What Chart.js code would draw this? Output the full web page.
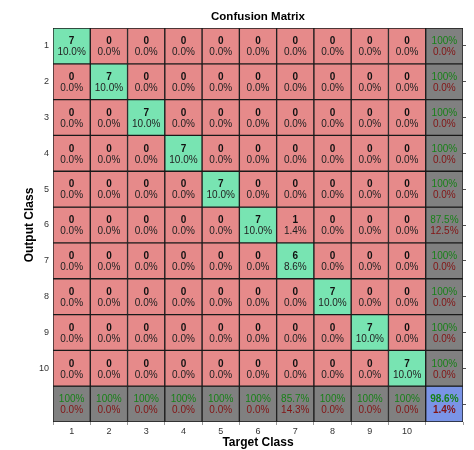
<!DOCTYPE html>
<html>
<head>
<meta charset="utf-8">
<script src="https://cdn.jsdelivr.net/npm/chart.js@4.4.1/dist/chart.umd.min.js"></script>
<style>
  html, body { margin: 0; padding: 0; background: #fff; }
  #wrap { width: 474px; height: 450px; }
</style>
</head>
<body>
<div id="wrap"><canvas id="grafico"></canvas></div>
<script>
// Datos de la matriz de confusion (filas = clase de salida, columnas = clase objetivo)
const classLabels = ['1', '2', '3', '4', '5', '6', '7', '8', '9', '10'];
const counts = [
    [7, 0, 0, 0, 0, 0, 0, 0, 0, 0],
    [0, 7, 0, 0, 0, 0, 0, 0, 0, 0],
    [0, 0, 7, 0, 0, 0, 0, 0, 0, 0],
    [0, 0, 0, 7, 0, 0, 0, 0, 0, 0],
    [0, 0, 0, 0, 7, 0, 0, 0, 0, 0],
    [0, 0, 0, 0, 0, 7, 1, 0, 0, 0],
    [0, 0, 0, 0, 0, 0, 6, 0, 0, 0],
    [0, 0, 0, 0, 0, 0, 0, 7, 0, 0],
    [0, 0, 0, 0, 0, 0, 0, 0, 7, 0],
    [0, 0, 0, 0, 0, 0, 0, 0, 0, 7]
];
const totalSamples = 70;
// Columna derecha (por fila) y fila inferior (por columna)
const rowCorrect = ['100%', '100%', '100%', '100%', '100%', '87.5%', '100%', '100%', '100%', '100%'];
const rowError   = ['0.0%', '0.0%', '0.0%', '0.0%', '0.0%', '12.5%', '0.0%', '0.0%', '0.0%', '0.0%'];
const colCorrect = ['100%', '100%', '100%', '100%', '100%', '100%', '85.7%', '100%', '100%', '100%'];
const colError   = ['0.0%', '0.0%', '0.0%', '0.0%', '0.0%', '0.0%', '14.3%', '0.0%', '0.0%', '0.0%'];
const overallCorrect = '98.6%';
const overallError = '1.4%';

const n = classLabels.length;
const xLabels = classLabels.concat(['']);
const yLabels = classLabels.concat(['']);

const GREEN = 'rgb(120, 228, 178)';
const RED = 'rgb(230, 138, 138)';
const GRAY = 'rgb(128, 128, 128)';
const BLUE = 'rgb(122, 148, 230)';
const TXT_GREEN = 'rgb(24, 128, 24)';
const TXT_RED = 'rgb(130, 20, 20)';

function cellColor(r, c){
    if(r === n && c === n) return BLUE;
    if(r === n || c === n) return GRAY;
    return r === c ? GREEN : RED;
}

// Un dataset por fila, barras flotantes [r, r+1]
const datasets = yLabels.map((lab, r) => ({
    label: 'fila ' + (r + 1),
    data: xLabels.map(() => [r, r + 1]),
    backgroundColor: xLabels.map((_, c) => cellColor(r, c)),
    borderColor: '#1a1a1a',
    borderWidth: 1,
    borderSkipped: false,
    barPercentage: 1,
    categoryPercentage: 1,
    grouped: false
}));

// Plugin para escribir textos de las celdas y el titulo
const cellText = {
    id: 'cellText',
    afterDatasetsDraw(chart){
        const ctx = chart.ctx;
        const xs = chart.scales.x;
        const ys = chart.scales.y;
        ctx.save();
        ctx.textAlign = 'center';
        ctx.textBaseline = 'middle';
        for(let r = 0; r <= n; r++){
            const cy = ys.getPixelForValue(r + 0.5);
            for(let c = 0; c <= n; c++){
                const cx = xs.getPixelForValue(c);
                let top, bottom, topColor, bottomColor, topBold, bottomBold = false;
                if(r < n && c < n){
                    top = String(counts[r][c]);
                    bottom = (counts[r][c] / totalSamples * 100).toFixed(1) + '%';
                    topColor = '#111'; bottomColor = '#222'; topBold = true;
                } else if(r < n){
                    top = rowCorrect[r]; bottom = rowError[r];
                    topColor = TXT_GREEN; bottomColor = TXT_RED; topBold = false;
                } else if(c < n){
                    top = colCorrect[c]; bottom = colError[c];
                    topColor = TXT_GREEN; bottomColor = TXT_RED; topBold = false;
                } else {
                    top = overallCorrect; bottom = overallError;
                    topColor = TXT_GREEN; bottomColor = TXT_RED; topBold = true; bottomBold = true;
                }
                ctx.font = (topBold ? 'bold ' : '') + '10px "Liberation Sans", Arial, sans-serif';
                ctx.fillStyle = topColor;
                ctx.fillText(top, cx, cy - 4.5);
                ctx.font = (bottomBold ? 'bold ' : '') + '10px "Liberation Sans", Arial, sans-serif';
                ctx.fillStyle = bottomColor;
                ctx.fillText(bottom, cx, cy + 6.5);
            }
        }
        // titulo
        const area = chart.chartArea;
        ctx.font = 'bold 11.5px "Liberation Sans", Arial, sans-serif';
        ctx.fillStyle = '#000';
        ctx.fillText('Confusion Matrix', (area.left + area.right) / 2, 17);
        ctx.restore();
    }
};

const tickFont = { family: '"Liberation Sans", Arial, sans-serif', size: 9 };
const titleFont = { family: '"Liberation Sans", Arial, sans-serif', size: 12, weight: 'bold' };

new Chart(document.getElementById('grafico').getContext('2d'), {
    type: 'bar',
    data: { labels: xLabels, datasets: datasets },
    options: {
        responsive: true,
        maintainAspectRatio: false,
        animation: false,
        layout: { padding: { top: 28, left: 0, right: 0, bottom: 0 } },
        plugins: {
            legend: { display: false },
            tooltip: { enabled: false },
            title: { display: false }
        },
        scales: {
            x: {
                type: 'category',
                offset: true,
                grid: { display: true, drawOnChartArea: false, drawTicks: true, tickLength: 3, color: '#999' },
                border: { display: false },
                ticks: { font: tickFont, color: '#333', padding: 1, maxRotation: 0, autoSkip: false },
                title: { display: true, text: 'Target Class', font: titleFont, color: '#000', padding: { top: 2, bottom: 0 } },
                afterFit(scale){ scale.height = 28; }
            },
            y: {
                type: 'linear',
                min: 0,
                max: n + 1,
                reverse: true,
                grid: { display: false, drawTicks: false },
                border: { display: false },
                afterBuildTicks(scale){
                    scale.ticks = yLabels.map((_, i) => ({ value: i + 0.5 }));
                },
                ticks: {
                    font: tickFont,
                    color: '#333',
                    padding: 4,
                    callback: (v, i) => yLabels[i]
                },
                title: { display: true, text: 'Output Class', font: titleFont, color: '#000', padding: { top: 22, bottom: 0 } },
                afterFit(scale){ scale.width = 53; }
            },
            y2: {
                type: 'linear',
                position: 'right',
                min: 0,
                max: n + 1,
                reverse: true,
                grid: { display: true, drawOnChartArea: false, drawTicks: true, tickLength: 3, color: '#555' },
                border: { display: false },
                afterBuildTicks(scale){
                    scale.ticks = yLabels.map((_, i) => ({ value: i + 0.5 }));
                },
                ticks: { display: true, callback: () => '', padding: 0 },
                afterFit(scale){ scale.width = 11; }
            }
        }
    },
    plugins: [cellText]
});
</script>
</body>
</html>
